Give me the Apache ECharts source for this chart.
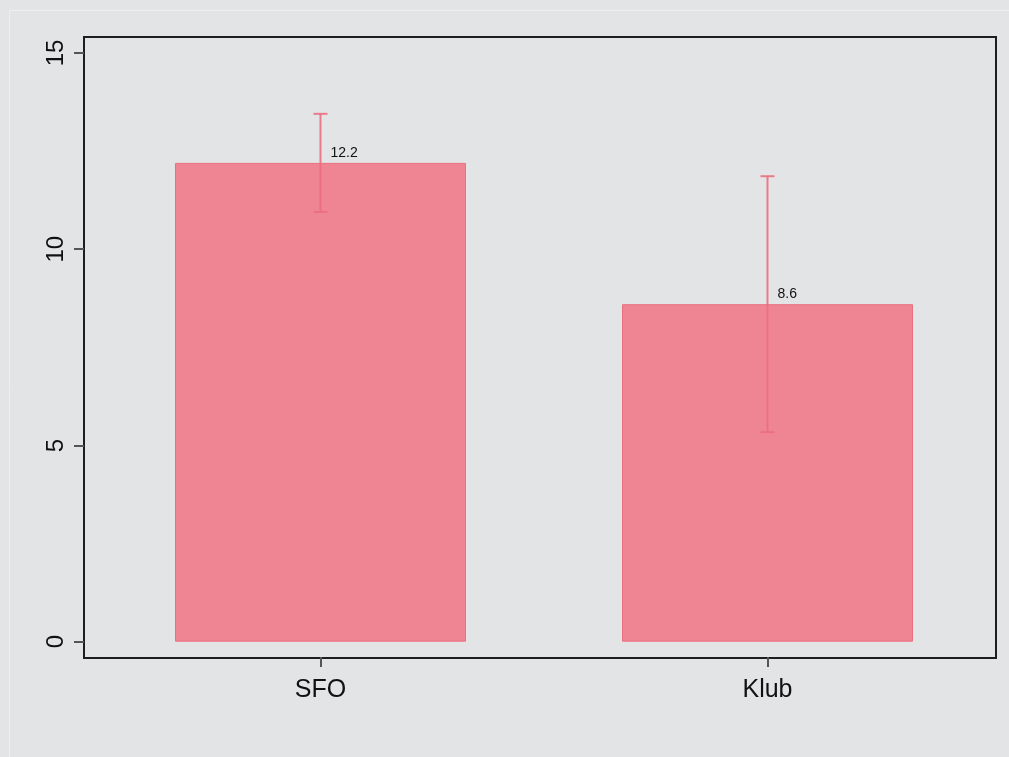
<!DOCTYPE html>
<html>
<head>
<meta charset="utf-8">
<script src="https://cdn.jsdelivr.net/npm/echarts@6/dist/echarts.min.js"></script>
<style>
  html, body { margin: 0; padding: 0; background: #e3e4e6; }
  #chart { width: 1009px; height: 757px; }
</style>
</head>
<body>
<div id="chart"></div>
<script>
// Group means with 95% confidence limits
const categories = ['SFO', 'Klub'];
const means = [12.2, 8.6];
const ciLow = [10.95, 5.34];
const ciHigh = [13.45, 11.86];
const yTicks = [0, 5, 10, 15];

const FONT = 'Arial, "Liberation Sans", sans-serif';
const BAR_FILL = '#ef8592';
const BAR_EDGE = '#e8707f';
const CI_COLOR = '#ea6f7f';

const chart = echarts.init(document.getElementById('chart'), null, { renderer: 'canvas' });

const errorData = categories.map((c, i) => [i, ciLow[i], ciHigh[i], means[i]]);

chart.setOption({
  backgroundColor: '#e3e4e6',
  animation: false,
  graphic: [{
    type: 'rect',
    shape: { x: 9.5, y: 10.5, width: 1200, height: 900 },
    style: { fill: 'none', stroke: '#efeff0', lineWidth: 1 },
    silent: true,
    z: -10
  }],
  grid: [
    // outer plot frame
    { left: 84, right: 13, top: 37, bottom: 99, show: true,
      borderColor: '#1e1e1e', borderWidth: 2, backgroundColor: 'transparent' },
    // data region
    { left: 97, right: 18, top: 53, bottom: 115.3 }
  ],
  xAxis: [
    { type: 'value', gridIndex: 0, show: false, min: 0, max: 1 },
    {
      type: 'category', gridIndex: 1, data: categories, boundaryGap: true,
      offset: 15.3,
      axisLine: { show: false, onZero: false },
      axisTick: { show: true, alignWithLabel: true, length: 10,
                  lineStyle: { color: '#555', width: 2 } },
      axisLabel: { color: '#111', fontSize: 25, fontFamily: FONT, margin: 21 }
    }
  ],
  yAxis: [
    { type: 'value', gridIndex: 0, show: false, min: 0, max: 1 },
    {
      type: 'value', gridIndex: 1, min: 0, max: 15, interval: 5,
      offset: 13,
      splitLine: { show: false },
      axisLine: { show: false, onZero: false },
      axisTick: { show: true, length: 10, customValues: yTicks,
                  lineStyle: { color: '#555', width: 2 } },
      axisLabel: { customValues: yTicks, rotate: 90, color: '#111', fontSize: 24,
                   fontFamily: FONT, margin: 16 }
    }
  ],
  series: [
    {
      type: 'bar', xAxisIndex: 1, yAxisIndex: 1,
      data: means, barWidth: 291,
      itemStyle: { color: BAR_FILL, borderColor: BAR_EDGE, borderWidth: 1 }
    },
    {
      type: 'custom', xAxisIndex: 1, yAxisIndex: 1,
      data: errorData,
      encode: { x: 0, y: [1, 2] },
      z: 5,
      renderItem: function (params, api) {
        const idx = api.value(0);
        const lo = api.coord([idx, api.value(1)]);
        const hi = api.coord([idx, api.value(2)]);
        const mid = api.coord([idx, api.value(3)]);
        const cap = 7;
        const ls = { stroke: CI_COLOR, lineWidth: 2, opacity: 0.9 };
        return {
          type: 'group',
          children: [
            { type: 'line', shape: { x1: hi[0], y1: hi[1], x2: lo[0], y2: lo[1] }, style: ls },
            { type: 'line', shape: { x1: hi[0] - cap, y1: hi[1], x2: hi[0] + cap, y2: hi[1] }, style: ls },
            { type: 'line', shape: { x1: lo[0] - cap, y1: lo[1], x2: lo[0] + cap, y2: lo[1] }, style: ls },
            { type: 'text', x: mid[0] + 10, y: mid[1] - 3,
              style: { text: String(api.value(3)), fill: '#111', fontSize: 14,
                       fontFamily: FONT, align: 'left', verticalAlign: 'bottom' } }
          ]
        };
      }
    }
  ]
});
</script>
</body>
</html>
